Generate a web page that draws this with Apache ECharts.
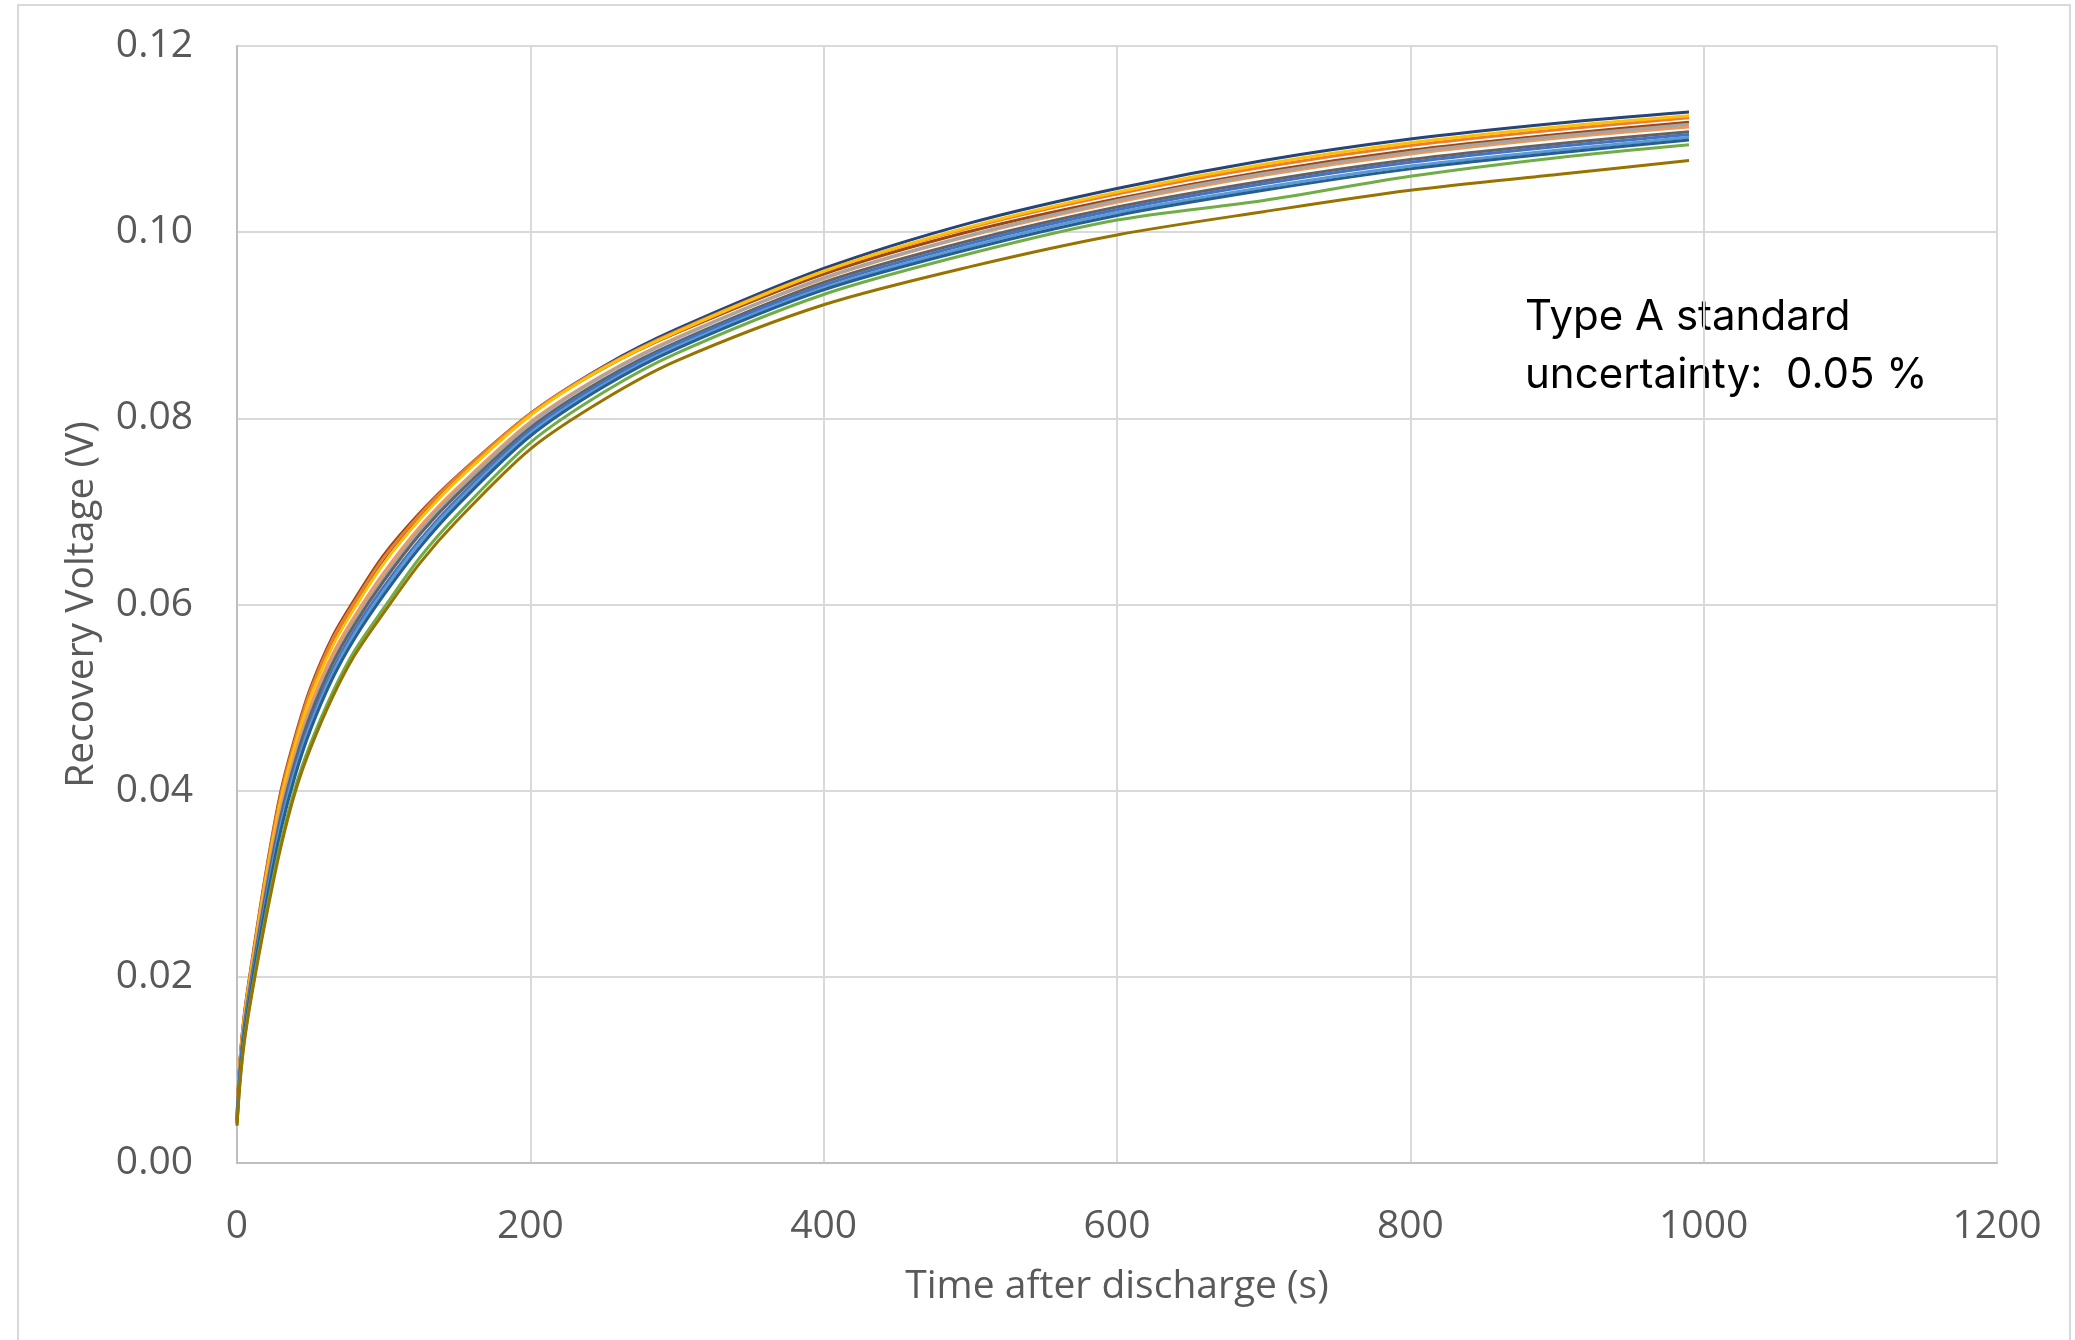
<!DOCTYPE html>
<html>
<head>
<meta charset="utf-8">
<script src="https://cdn.jsdelivr.net/npm/echarts@6/dist/echarts.min.js"></script>
<style>
  html, body { margin: 0; padding: 0; background: #fff; }
  #chart { width: 2075px; height: 1340px; }
</style>
</head>
<body>
<div id="chart"></div>
<script>
  // time after discharge (s), shared by all runs
  const times = [0, 2, 5, 10, 20, 30, 40, 50, 65, 80, 100, 125, 150, 200, 250, 300, 400, 500, 600, 700, 800, 900, 990];

  // recovery voltage (V), one array per run
  const run1 = [0.0049, 0.0108, 0.0157, 0.0212, 0.0310, 0.0394, 0.0454, 0.0504, 0.0559, 0.0599, 0.0647, 0.0695, 0.0736, 0.0805, 0.0856, 0.0896, 0.0961, 0.1010, 0.1047, 0.1077, 0.1100, 0.1117, 0.1129];
  const run2 = [0.0050, 0.0110, 0.0160, 0.0215, 0.0315, 0.0400, 0.0460, 0.0510, 0.0565, 0.0605, 0.0653, 0.0699, 0.0738, 0.0805, 0.0854, 0.0892, 0.0955, 0.1001, 0.1036, 0.1065, 0.1088, 0.1105, 0.1118];
  const run3 = [0.0050, 0.0109, 0.0159, 0.0213, 0.0313, 0.0397, 0.0457, 0.0507, 0.0562, 0.0602, 0.0650, 0.0697, 0.0737, 0.0805, 0.0855, 0.0894, 0.0958, 0.1005, 0.1041, 0.1070, 0.1093, 0.1110, 0.1123];
  const run4 = [0.0049, 0.0106, 0.0156, 0.0210, 0.0308, 0.0391, 0.0451, 0.0500, 0.0555, 0.0596, 0.0644, 0.0692, 0.0733, 0.0803, 0.0854, 0.0893, 0.0958, 0.1006, 0.1043, 0.1073, 0.1096, 0.1113, 0.1125];
  const run5 = [0.0047, 0.0103, 0.0151, 0.0205, 0.0300, 0.0382, 0.0442, 0.0491, 0.0546, 0.0587, 0.0634, 0.0684, 0.0725, 0.0796, 0.0847, 0.0887, 0.0950, 0.0996, 0.1032, 0.1061, 0.1084, 0.1101, 0.1113];
  const run6 = [0.0046, 0.0101, 0.0149, 0.0202, 0.0296, 0.0377, 0.0437, 0.0485, 0.0540, 0.0582, 0.0629, 0.0680, 0.0722, 0.0794, 0.0846, 0.0886, 0.0951, 0.0997, 0.1034, 0.1063, 0.1086, 0.1103, 0.1116];
  const run7 = [0.0046, 0.0099, 0.0147, 0.0199, 0.0293, 0.0373, 0.0433, 0.0481, 0.0536, 0.0578, 0.0625, 0.0676, 0.0718, 0.0790, 0.0842, 0.0882, 0.0946, 0.0991, 0.1027, 0.1055, 0.1078, 0.1095, 0.1108];
  const run8 = [0.0045, 0.0096, 0.0144, 0.0196, 0.0288, 0.0367, 0.0427, 0.0474, 0.0529, 0.0572, 0.0619, 0.0670, 0.0713, 0.0787, 0.0839, 0.0880, 0.0943, 0.0988, 0.1024, 0.1052, 0.1075, 0.1092, 0.1105];
  const run9 = [0.0044, 0.0095, 0.0141, 0.0193, 0.0284, 0.0363, 0.0423, 0.0470, 0.0525, 0.0568, 0.0615, 0.0667, 0.0710, 0.0784, 0.0836, 0.0877, 0.0940, 0.0985, 0.1021, 0.1048, 0.1071, 0.1088, 0.1102];
  const run10 = [0.0043, 0.0093, 0.0139, 0.0191, 0.0280, 0.0358, 0.0418, 0.0465, 0.0520, 0.0563, 0.0610, 0.0662, 0.0706, 0.0781, 0.0834, 0.0875, 0.0938, 0.0982, 0.1018, 0.1045, 0.1068, 0.1085, 0.1099];
  const run11 = [0.0041, 0.0087, 0.0132, 0.0183, 0.0269, 0.0345, 0.0405, 0.0450, 0.0505, 0.0550, 0.0596, 0.0651, 0.0696, 0.0774, 0.0828, 0.0870, 0.0933, 0.0977, 0.1013, 0.1034, 0.1060, 0.1080, 0.1094];
  const run12 = [0.0040, 0.0085, 0.0130, 0.0180, 0.0265, 0.0340, 0.0400, 0.0445, 0.0500, 0.0545, 0.0591, 0.0645, 0.0690, 0.0767, 0.0820, 0.0862, 0.0922, 0.0963, 0.0997, 0.1022, 0.1045, 0.1062, 0.1077];

  const runs = [run1, run2, run3, run4, run5, run6, run7, run8, run9, run10, run11, run12];
  const runColors = ["#264478", "#9E480E", "#ED7D31", "#FFC000", "#F1975A", "#A5A5A5",
                     "#636363", "#4472C4", "#5B9BD5", "#255E91", "#70AD47", "#997300"];

  const note = "Type A standard\nuncertainty:  0.05 %";

  let myChart = echarts.init(document.getElementById("chart"));

  let option = {
    animation: false,
    backgroundColor: "#fff",
    grid: {
      left: 237,
      right: 78,
      top: 46,
      bottom: 177
    },
    xAxis: {
      type: "value",
      min: 0,
      max: 1200,
      interval: 200,
      name: "Time after discharge (s)",
      nameLocation: "middle",
      nameGap: 104,
      nameTextStyle: { fontFamily: "Open Sans", fontSize: 39, color: "#595959" },
      axisLine: { lineStyle: { color: "#bfbfbf", width: 2 } },
      axisTick: { show: false },
      axisLabel: {
        fontFamily: "Open Sans",
        fontSize: 39,
        color: "#595959",
        margin: 44,
        formatter: (v) => String(v)
      },
      splitLine: { lineStyle: { color: "#d9d9d9", width: 2 } }
    },
    yAxis: {
      type: "value",
      min: 0,
      max: 0.12,
      interval: 0.02,
      name: "Recovery Voltage (V)",
      nameLocation: "middle",
      nameGap: 136,
      nameTextStyle: { fontFamily: "Open Sans", fontSize: 39, color: "#595959" },
      axisLine: { show: true, lineStyle: { color: "#bfbfbf", width: 2 } },
      axisTick: { show: false },
      axisLabel: {
        fontFamily: "Open Sans",
        fontSize: 39,
        color: "#595959",
        margin: 44,
        formatter: (v) => v.toFixed(2)
      },
      splitLine: { lineStyle: { color: "#d9d9d9", width: 2 } }
    },
    graphic: [
      {
        // outer chart border
        type: "rect",
        shape: { x: 18, y: 5, width: 2052, height: 1345 },
        style: { fill: null, stroke: "#d9d9d9", lineWidth: 2 },
        silent: true
      },
      {
        type: "text",
        left: 1525,
        top: 288,
        style: {
          text: note,
          fontFamily: "Inter",
          fontSize: 42,
          lineHeight: 58,
          fill: "#000"
        }
      }
    ],
    series: runs.map((vals, i) => ({
      name: "Run " + (i + 1),
      type: "line",
      showSymbol: false,
      smooth: 0.3,
      lineStyle: { color: runColors[i], width: 3 },
      data: times.map((t, k) => [t, vals[k]])
    }))
  };

  myChart.setOption(option);
</script>
</body>
</html>
